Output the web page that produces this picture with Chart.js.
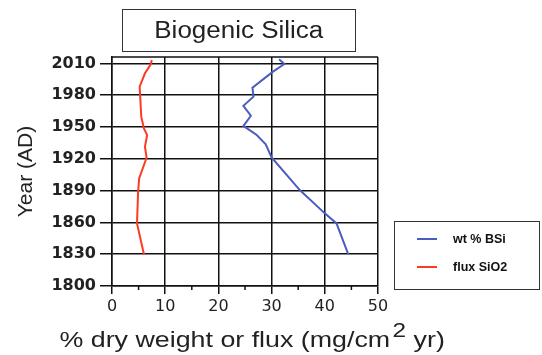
<!DOCTYPE html>
<html>
<head>
<meta charset="utf-8">
<script src="https://cdn.jsdelivr.net/npm/chart.js@4/dist/chart.umd.min.js"></script>
<style>
  html, body { margin: 0; padding: 0; background: #fff; }
  #wrap { position: relative; width: 542px; height: 355px; }
  #title {
    position: absolute; left: 122px; top: 9px; width: 232px; height: 41px;
    border: 1.5px solid #333; box-sizing: content-box;
    font-family: "Liberation Sans", Arial, sans-serif; font-size: 23px; color: #222;
    display: flex; align-items: center; justify-content: center;
  }
  #title span { display: inline-block; transform: scaleX(1.13); }
  #xtitle {
    position: absolute; left: 252px; top: 329px; white-space: nowrap;
    font-family: "Liberation Sans", Arial, sans-serif; font-size: 22px; line-height: 22px; color: #222;
    transform-origin: 0 0;
  }
  #xtitle .sup { position: relative; top: -10px; font-size: 20px; margin-left: 2px; }
  #legend {
    position: absolute; left: 394px; top: 221px; width: 146px; height: 69px;
    border: 1.5px solid #333; box-sizing: border-box;
    font-family: "Liberation Sans", Arial, sans-serif; font-weight: bold; font-size: 12.5px; color: #111;
  }
  .item { position: absolute; left: 22px; height: 14px; display: flex; align-items: center; }
  .sw { display: inline-block; width: 20px; height: 1.6px; margin-right: 16px; }
</style>
</head>
<body>
<div id="wrap">
  <canvas id="c" width="542" height="355"></canvas>
  <div id="title"><span>Biogenic Silica</span></div>
  <div id="xtitle">% dry weight or flux (mg/cm<span class="sup">2</span> yr)</div>
  <div id="legend"></div>
</div>
<script>
// ---- data ----
const bsiLabel = "wt % BSi";
const bsiYears  = [2013.8, 2009.4, 2002, 1987, 1978.6, 1970, 1960.6, 1951, 1942.4, 1933.6, 1921.3, 1890.5, 1868.5, 1859, 1830];
const bsiValues = [31.4, 32.4, 30.2, 26.4, 26.6, 24.7, 26.1, 24.7, 27.2, 28.9, 30.0, 35.3, 40.0, 42.2, 44.4];

const fluxLabel = "flux SiO2";
const fluxYears  = [2013, 2008.4, 2000.6, 1988, 1959.7, 1948.7, 1942.4, 1931.4, 1921, 1901.5, 1887.6, 1859, 1830];
const fluxValues = [7.5, 7.2, 6.2, 5.2, 5.5, 6.0, 6.6, 6.2, 6.5, 5.1, 4.9, 4.7, 6.0];

const yearTicks = [1800, 1830, 1860, 1890, 1920, 1950, 1980, 2010];
const xMajorTicks = [0, 10, 20, 30, 40, 50];
const xMinorTicks = [5, 15, 25, 35, 45];

const blue = "#4a5cbf";
const red = "#ff3a22";

function pts(xs, ys) { return xs.map((v, i) => ({ x: v, y: ys[i] })); }

// x-axis title: stretch horizontally to the reference's wide lettering
const xt = document.getElementById('xtitle');
const xtW = xt.offsetWidth;
const k = 385 / xtW;
xt.style.transform = 'translateX(' + (-385 / 2) + 'px) scaleX(' + k + ')';

// legend (HTML)
const legend = document.getElementById('legend');
[[bsiLabel, blue, 10], [fluxLabel, red, 38]].forEach(([lab, col, top]) => {
  const d = document.createElement('div');
  d.className = 'item';
  d.style.top = top + 'px';
  const sw = document.createElement('span');
  sw.className = 'sw';
  sw.style.background = col;
  const t = document.createElement('span');
  t.textContent = lab;
  d.appendChild(sw); d.appendChild(t);
  legend.appendChild(d);
});

const frame = {
  id: 'frame',
  afterDraw(chart) {
    const { ctx, chartArea: a, scales } = chart;
    ctx.save();
    ctx.strokeStyle = '#111';
    ctx.lineWidth = 1.5;
    ctx.beginPath();
    ctx.moveTo(a.left, a.top); ctx.lineTo(a.right, a.top);
    xMinorTicks.forEach(v => {
      const px = scales.x.getPixelForValue(v);
      ctx.moveTo(px, a.bottom); ctx.lineTo(px, a.bottom + 4);
    });
    ctx.stroke();
    ctx.restore();
  }
};

const FAM = "'DejaVu Sans', 'Liberation Sans', sans-serif";

new Chart(document.getElementById('c'), {
  type: 'scatter',
  data: {
    datasets: [
      { label: bsiLabel, data: pts(bsiValues, bsiYears), showLine: true, borderColor: blue, borderWidth: 2, pointRadius: 0, tension: 0 },
      { label: fluxLabel, data: pts(fluxValues, fluxYears), showLine: true, borderColor: red, borderWidth: 2, pointRadius: 0, tension: 0 }
    ]
  },
  options: {
    responsive: false,
    animation: false,
    layout: { padding: { top: 57, right: 164, left: 0, bottom: 0 } },
    plugins: { legend: { display: false }, tooltip: { enabled: false } },
    scales: {
      x: {
        type: 'linear', min: 0, max: 50,
        afterFit: s => { s.height = 69; },
        afterBuildTicks: s => { s.ticks = xMajorTicks.map(v => ({ value: v })); },
        grid: { color: '#111', lineWidth: 1.5, tickLength: 8, tickColor: '#111' },
        border: { color: '#111', width: 1.5 },
        ticks: { color: '#222', padding: 3, font: { family: FAM, size: 16 }, callback: v => String(v) },
        title: { display: false }
      },
      y: {
        type: 'linear', min: 1800, max: 2016,
        afterFit: s => { s.width = 112; },
        afterBuildTicks: s => { s.ticks = yearTicks.map(v => ({ value: v })); },
        grid: { color: '#111', lineWidth: 1.5, tickLength: 12, tickColor: '#111' },
        border: { color: '#111', width: 1.5 },
        ticks: { color: '#222', padding: 4, font: { family: FAM, size: 16, weight: 'bold' }, callback: v => String(v) },
        title: { display: true, text: 'Year (AD)', color: '#222',
                 font: { family: "'Liberation Sans', Arial, sans-serif", size: 21 }, padding: { top: 14, bottom: 0 } }
      }
    }
  },
  plugins: [frame]
});
</script>
</body>
</html>
